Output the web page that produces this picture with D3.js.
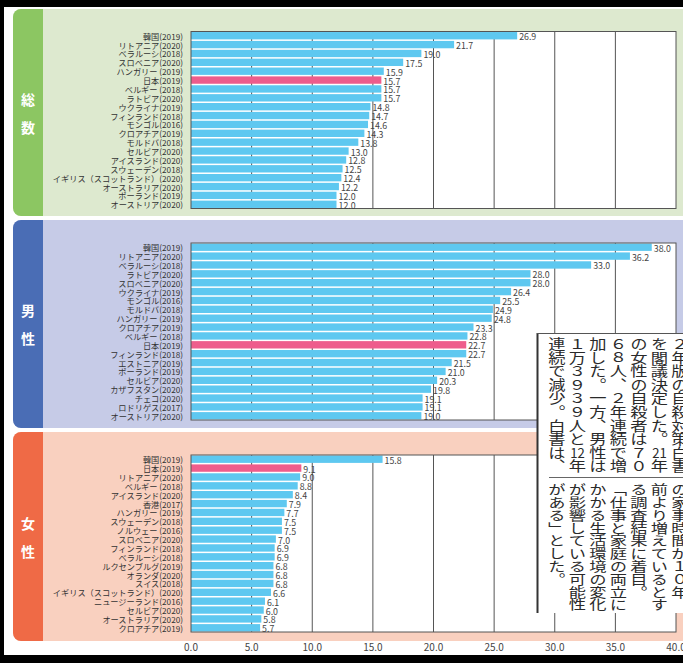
<!DOCTYPE html>
<html><head><meta charset="utf-8">
<script src="https://cdn.jsdelivr.net/npm/d3@7"></script>
<style>html,body{margin:0;padding:0;background:#fff;}svg{display:block;}</style>
</head><body>
<script>
// ---------- DATA ----------
const totalCountries = ["韓国(2019)","リトアニア(2020)","ベラルーシ(2018)","スロベニア(2020)","ハンガリー (2019)","日本(2019)","ベルギー (2018)","ラトビア(2020)","ウクライナ(2019)","フィンランド(2018)","モンゴル(2016)","クロアチア(2019)","モルドバ(2018)","セルビア(2020)","アイスランド(2020)","スウェーデン(2018)","イギリス（スコットランド）(2020)","オーストラリア(2020)","ポーランド(2019)","オーストリア(2020)"];
const totalValues = [26.9,21.7,19.0,17.5,15.9,15.7,15.7,15.7,14.8,14.7,14.6,14.3,13.8,13.0,12.8,12.5,12.4,12.2,12.0,12.0];

const maleCountries = ["韓国(2019)","リトアニア(2020)","ベラルーシ(2018)","ラトビア(2020)","スロベニア(2020)","ウクライナ(2019)","モンゴル(2016)","モルドバ(2018)","ハンガリー (2019)","クロアチア(2019)","ベルギー (2018)","日本(2019)","フィンランド(2018)","エストニア(2019)","ポーランド(2019)","セルビア(2020)","カザフスタン(2020)","チェコ(2020)","ロドリゲス(2017)","オーストリア(2020)"];
const maleValues = [38.0,36.2,33.0,28.0,28.0,26.4,25.5,24.9,24.8,23.3,22.8,22.7,22.7,21.5,21.0,20.3,19.8,19.1,19.1,19.0];

const femaleCountries = ["韓国(2019)","日本(2019)","リトアニア(2020)","ベルギー (2018)","アイスランド(2020)","香港(2017)","ハンガリー (2019)","スウェーデン(2018)","ノルウェー (2016)","スロベニア(2020)","フィンランド(2018)","ベラルーシ(2018)","ルクセンブルグ(2019)","オランダ(2020)","スイス(2018)","イギリス（スコットランド）(2020)","ニュージーランド(2016)","セルビア(2020)","オーストラリア(2020)","クロアチア(2019)"];
const femaleValues = [15.8,9.1,9.0,8.8,8.4,7.9,7.7,7.5,7.5,7.0,6.9,6.9,6.8,6.8,6.8,6.6,6.1,6.0,5.8,5.7];

const panelTitles = ["総数","男性","女性"];
const highlightCountry = "日本(2019)";
const xTicks = [0,5,10,15,20,25,30,35,40];

// newspaper clipping (columns right to left; [nn] = horizontal-in-vertical digits)
const clipUpperCols = ["２年版の自殺対策白書","を閣議決定した。[21]年","の女性の自殺者は７０","６８人、２年連続で増","加した。一方、男性は","１万３９３９人と[12]年","連続で減少。白書は、"];
const clipLowerCols = ["の家事時間が１０年","前より増えているとす","る調査結果に着目。","「仕事と家庭の両立に","かかる生活環境の変化","が影響している可能性","がある」とした。"];

// ---------- LAYOUT ----------
const W = 683, H = 663;
const font = "'Noto Sans CJK JP','Noto Sans',sans-serif";
const panels = [
  {countries: totalCountries, values: totalValues, bgTop: 9, bgBottom: 216, plotTop: 31.5, plotBottom: 208.5, bg: "#dde9cf", tab: "#8cc662"},
  {countries: maleCountries, values: maleValues, bgTop: 220, bgBottom: 428, plotTop: 243, plotBottom: 420, bg: "#c6cbe7", tab: "#4a6db5"},
  {countries: femaleCountries, values: femaleValues, bgTop: 432, bgBottom: 641, plotTop: 455, plotBottom: 632, bg: "#f9d0bf", tab: "#ef6a46"}
];

const svg = d3.select("body").append("svg").attr("width", W).attr("height", H)
  .style("font-family", font);

svg.append("rect").attr("width", W).attr("height", H).attr("fill", "#fff");

const x = d3.scaleLinear().domain([0, 40]).range([191, 676]);
const defs = svg.append("defs");

panels.forEach((p, i) => {
  const g = svg.append("g");
  const cid = "pclip" + i;
  defs.append("clipPath").attr("id", cid).append("rect")
    .attr("x", 13).attr("y", p.bgTop).attr("width", 720).attr("height", p.bgBottom - p.bgTop).attr("rx", 8);
  const bgG = g.append("g").attr("clip-path", `url(#${cid})`);
  bgG.append("rect").attr("x", 13).attr("y", p.bgTop).attr("width", 720).attr("height", p.bgBottom - p.bgTop).attr("fill", p.bg);
  bgG.append("rect").attr("x", 13).attr("y", p.bgTop).attr("width", 30).attr("height", p.bgBottom - p.bgTop).attr("fill", p.tab);

  const mid = (p.bgTop + p.bgBottom) / 2;
  const chars = Array.from(panelTitles[i]);
  g.selectAll("text.tabl").data(chars).join("text")
    .attr("x", 28).attr("y", (d, k) => mid - 14 + k * 28)
    .attr("text-anchor", "middle").attr("dominant-baseline", "central")
    .attr("fill", "#fff").attr("font-size", 14).attr("font-weight", 700).text(d => d);

  // plot area
  g.append("rect").attr("x", x(0)).attr("y", p.plotTop).attr("width", x(40) - x(0)).attr("height", p.plotBottom - p.plotTop)
    .attr("fill", "#fff");
  const y = d3.scaleBand().domain(p.countries).range([p.plotTop, p.plotBottom]).paddingInner(0.17).paddingOuter(0.06);

  g.selectAll("line.grid").data(xTicks.slice(1, -1)).join("line")
    .attr("x1", d => x(d)).attr("x2", d => x(d)).attr("y1", p.plotTop).attr("y2", p.plotBottom)
    .attr("stroke", "#555").attr("stroke-width", 1);

  g.selectAll("rect.bar").data(p.countries).join("rect")
    .attr("x", x(0)).attr("y", d => y(d))
    .attr("width", (d, k) => x(p.values[k]) - x(0)).attr("height", y.bandwidth())
    .attr("fill", d => d === highlightCountry ? "#ee5d8c" : "#5ec8f0");

  g.append("rect").attr("x", x(0)).attr("y", p.plotTop).attr("width", x(40) - x(0)).attr("height", p.plotBottom - p.plotTop)
    .attr("fill", "none").attr("stroke", "#555").attr("stroke-width", 1);

  g.selectAll("text.val").data(p.countries).join("text")
    .attr("x", (d, k) => x(p.values[k]) + 2).attr("y", d => y(d) + y.bandwidth() / 2 + 1)
    .attr("dominant-baseline", "central").attr("font-size", 8.8).attr("fill", "#444")
    .text((d, k) => p.values[k].toFixed(1));

  g.selectAll("text.cat").data(p.countries).join("text")
    .attr("x", 183).attr("y", d => y(d) + y.bandwidth() / 2)
    .attr("text-anchor", "end").attr("dominant-baseline", "central")
    .attr("font-size", 8.2).attr("fill", "#333").text(d => d);
});

// x axis labels at bottom
svg.selectAll("text.xt").data(xTicks).join("text")
  .attr("x", d => x(d)).attr("y", 646).attr("text-anchor", "middle").attr("dominant-baseline", "central")
  .attr("font-size", 10).attr("fill", "#444").text(d => d.toFixed(1));

// frame
svg.append("rect").attr("x", 0).attr("y", 0).attr("width", W).attr("height", 7).attr("fill", "#000");
svg.append("rect").attr("x", 0).attr("y", 0).attr("width", 4).attr("height", H).attr("fill", "#000");
svg.append("rect").attr("x", 0).attr("y", 655).attr("width", W).attr("height", 8).attr("fill", "#000");

// newspaper clipping
const clip = svg.append("g");
clip.append("rect").attr("x", 537).attr("y", 333).attr("width", 160).attr("height", 280).attr("fill", "#fff");
clip.append("line").attr("x1", 537.5).attr("x2", 537.5).attr("y1", 333).attr("y2", 613).attr("stroke", "#333").attr("stroke-width", 2);
clip.append("line").attr("x1", 537).attr("x2", 683).attr("y1", 333.5).attr("y2", 333.5).attr("stroke", "#555").attr("stroke-width", 1);
clip.append("line").attr("x1", 549).attr("x2", 683).attr("y1", 477.5).attr("y2", 477.5).attr("stroke", "#666").attr("stroke-width", 1);

const vmap = {"。": "︒", "、": "︑", "「": "﹁", "」": "﹂"};
function segments(s) {
  // split into runs of vertical text and horizontal digit groups
  const out = [];
  const re = /\[(\d+)\]|[^\[]+/gu;
  let m;
  while ((m = re.exec(s)) !== null) {
    if (m[1]) out.push({t: m[1], tcy: true, n: 1});
    else { const t = Array.from(m[0]).map(c => vmap[c] || c).join(""); out.push({t, tcy: false, n: Array.from(t).length}); }
  }
  return out;
}
const FS = 16;
function drawBlock(cols, top, cellH) {
  const sy = cellH / FS;
  cols.forEach((c, i) => {
    const cx = 680 - 20.5 * i;
    let k = 0;
    segments(c).forEach(sg => {
      if (sg.tcy) {
        const cy = top + cellH * (k + 0.5);
        clip.append("text")
          .attr("transform", `translate(${cx},${cy}) scale(0.82,${sy})`)
          .attr("text-anchor", "middle").attr("dominant-baseline", "central")
          .attr("font-size", FS).attr("fill", "#2a2a2a").text(sg.t);
      } else {
        clip.append("text")
          .attr("transform", `translate(${cx},${top + cellH * k}) scale(1.08,${sy})`)
          .attr("x", 0).attr("y", 0)
          .style("writing-mode", "vertical-rl").style("text-orientation", "upright")
          .attr("text-anchor", "start")
          .attr("font-size", FS).attr("fill", "#2a2a2a").text(sg.t);
      }
      k += sg.n;
    });
  });
}
drawBlock(clipUpperCols, 337, 13.6);
drawBlock(clipLowerCols, 483, 12.8);
</script>
</body></html>
